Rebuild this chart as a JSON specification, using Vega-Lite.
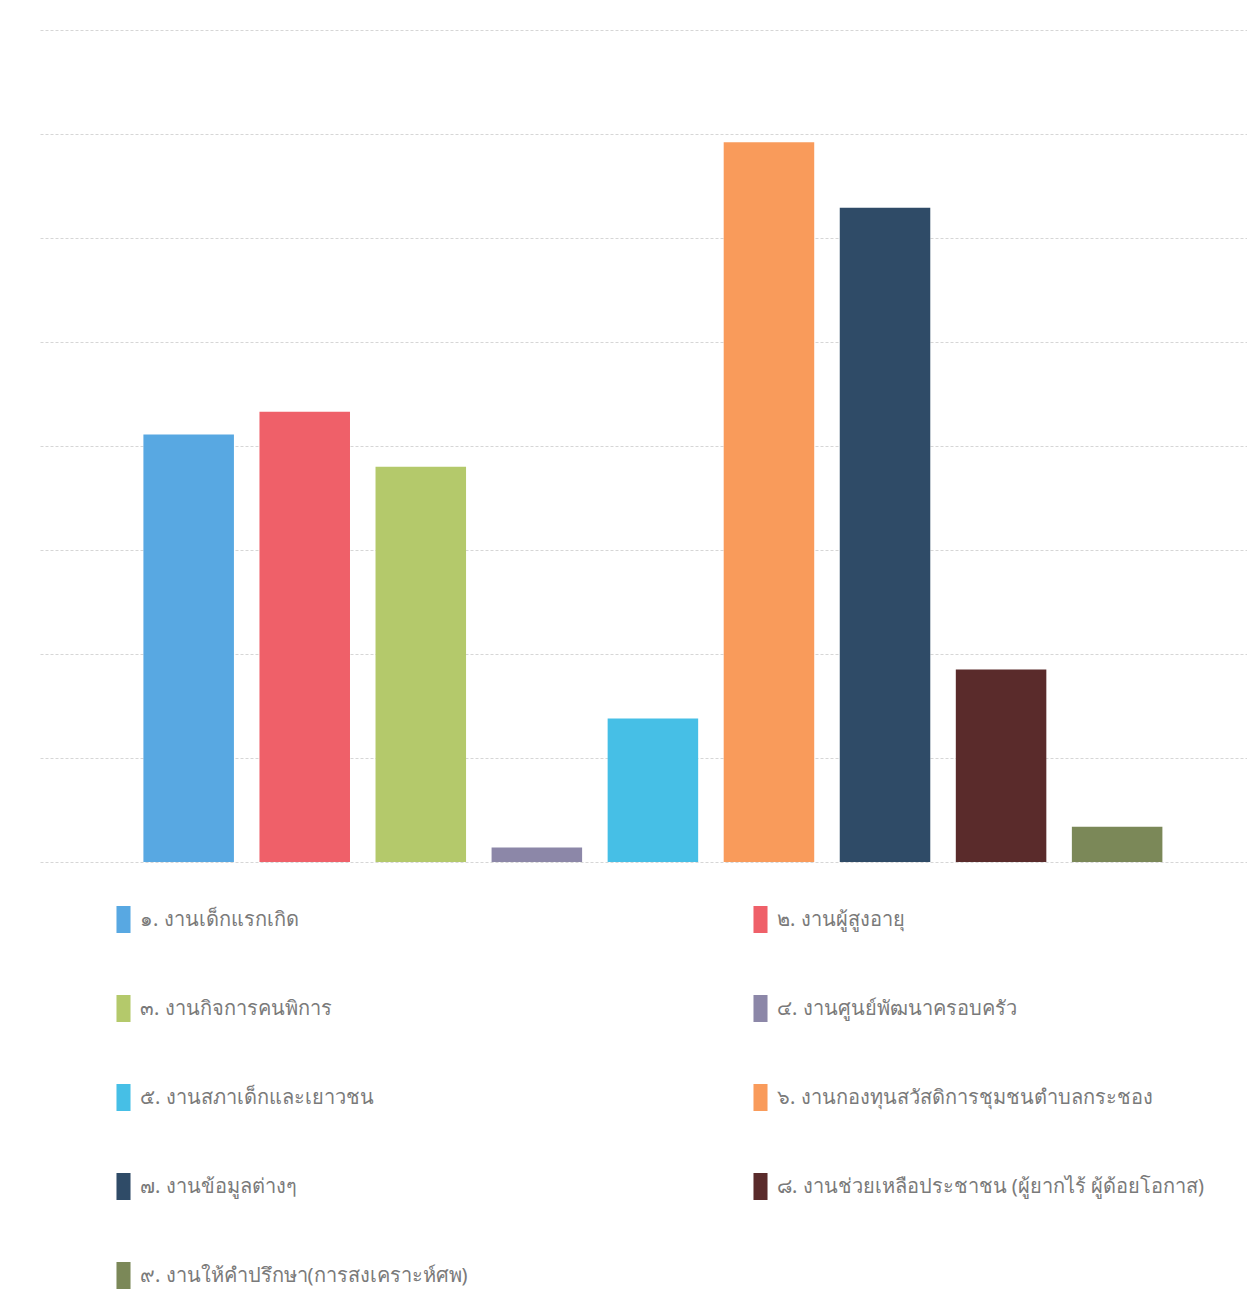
{
  "$schema": "https://vega.github.io/schema/vega-lite/v6.json",
  "autosize": {"type": "none"},
  "width": 1207,
  "height": 832,
  "padding": {"left": 40, "top": 30, "right": 0, "bottom": 441},
  "background": "white",
  "data": {"values": [
    {"k": "๑. งานเด็กแรกเกิด", "v": 41.1},
    {"k": "๒. งานผู้สูงอายุ", "v": 43.3},
    {"k": "๓. งานกิจการคนพิการ", "v": 38.0},
    {"k": "๔. งานศูนย์พัฒนาครอบครัว", "v": 1.4},
    {"k": "๕. งานสภาเด็กและเยาวชน", "v": 13.8},
    {"k": "๖. งานกองทุนสวัสดิการชุมชนตำบลกระชอง", "v": 69.2},
    {"k": "๗. งานข้อมูลต่างๆ", "v": 62.9},
    {"k": "๘. งานช่วยเหลือประชาชน (ผู้ยากไร้ ผู้ด้อยโอกาส)", "v": 18.5},
    {"k": "๙. งานให้คำปรึกษา(การสงเคราะห์ศพ)", "v": 3.4}
  ]},
  "mark": {"type": "bar"},
  "encoding": {
    "x": {"field": "k", "type": "nominal", "sort": null, "axis": null,
      "scale": {"paddingInner": 0.22, "paddingOuter": 0.81, "align": 0.55}},
    "y": {"field": "v", "type": "quantitative", "scale": {"domain": [0, 80]},
      "axis": {"title": null, "labels": false, "ticks": false, "domain": false, "values": [0,10,20,30,40,50,60,70,80], "grid": true, "gridColor": "#d6d6d6", "gridDash": [3, 2]}},
    "color": {"field": "k", "type": "nominal", "sort": null,
      "scale": {"range": ["#58a8e2", "#ef6069", "#b4c96b", "#8c87a8", "#46bfe6", "#f99b5b", "#2f4b67", "#5a2b2b", "#7b8858"]},
      "legend": {"title": null, "orient": "none", "legendX": 70, "legendY": 876, "direction": "horizontal", "columns": 2, "columnPadding": 279, "rowPadding": 62,
        "symbolType": "M-0.52,-1H0.52V1H-0.52Z", "symbolSize": 729, "symbolStrokeWidth": 0, "symbolOpacity": 1,
        "labelFontSize": 20, "labelColor": "#7a7a7a", "labelFont": "Noto Sans", "labelLimit": 600, "labelOffset": 3}}
  },
  "config": {"view": {"stroke": null}}
}
